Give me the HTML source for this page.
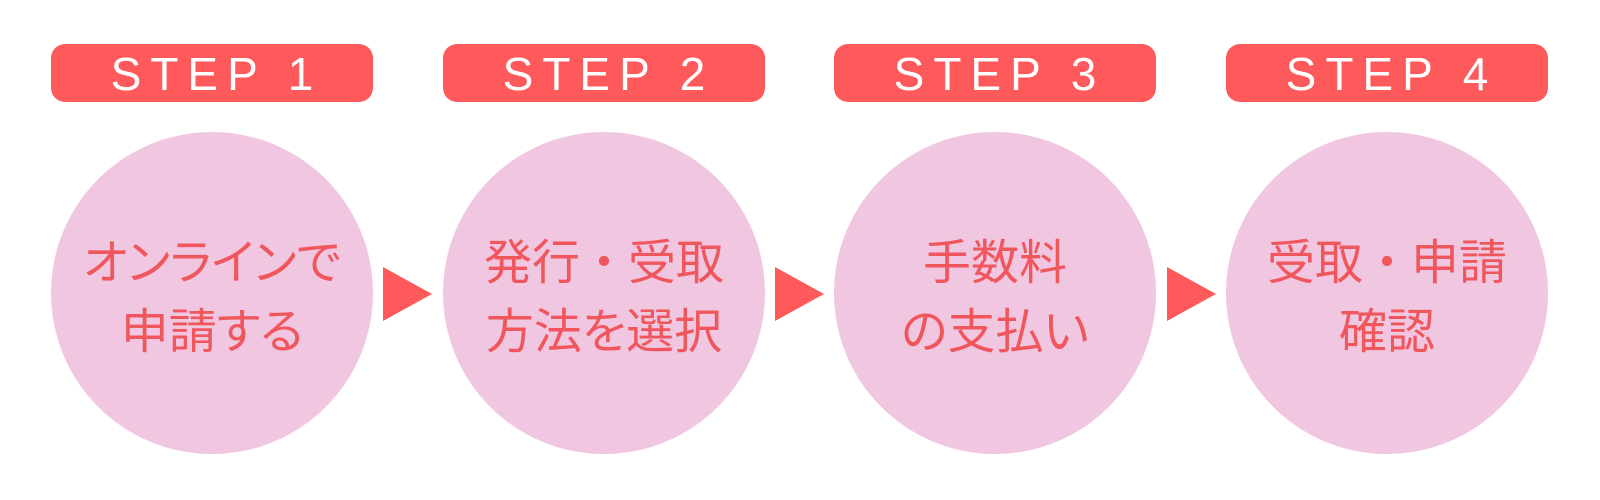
<!DOCTYPE html>
<html><head><meta charset="utf-8"><style>
body{margin:0;width:1600px;height:500px;background:#fff;position:relative;overflow:hidden;font-family:"Liberation Sans","Noto Sans CJK JP",sans-serif}
.pill{position:absolute;top:44px;width:322px;height:58px;border-radius:14px;background:#fe5a5b;color:#fff;font-size:46px;line-height:60px;text-align:center;letter-spacing:9px;text-indent:9px}
.c{position:absolute;top:132px;width:322px;height:322px;border-radius:50%;background:#f1c6e1;color:#f0575d;font-size:48px;text-align:center;display:flex;flex-direction:column;justify-content:center;line-height:69px;padding-top:10px;box-sizing:border-box;font-feature-settings:"palt"}
.d{font-feature-settings:normal}
.a{position:absolute;top:267px;width:0;height:0;border-top:27px solid transparent;border-bottom:27px solid transparent;border-left:49px solid #fe5a5b}
</style></head><body>
<div class="pill" style="left:51px">STEP 1</div>
<div class="pill" style="left:443px">STEP 2</div>
<div class="pill" style="left:834px">STEP 3</div>
<div class="pill" style="left:1226px">STEP 4</div>
<div class="c" style="left:51px"><div>オンラインで</div><div>申請する</div></div>
<div class="c" style="left:443px"><div>発行<span class="d">・</span>受取</div><div>方法を選択</div></div>
<div class="c" style="left:834px"><div>手数料</div><div>の支払い</div></div>
<div class="c" style="left:1226px"><div>受取<span class="d">・</span>申請</div><div>確認</div></div>
<div class="a" style="left:383px"></div>
<div class="a" style="left:775px"></div>
<div class="a" style="left:1167px"></div>
</body></html>
